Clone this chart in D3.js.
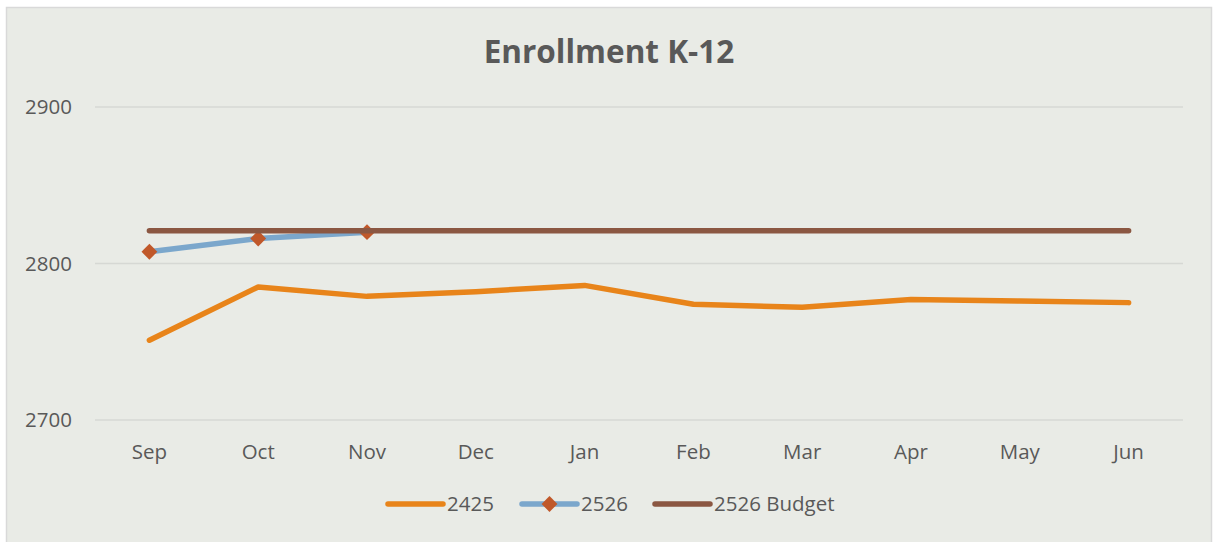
<!DOCTYPE html>
<html>
<head>
<meta charset="utf-8">
<script src="https://d3js.org/d3.v7.min.js"></script>
<style>
  html, body { margin: 0; padding: 0; background: #fff; }
  svg { display: block; font-family: 'Open Sans', sans-serif; }
</style>
</head>
<body>
<div id="chart"></div>
<script>
// data
var months = ["Sep", "Oct", "Nov", "Dec", "Jan", "Feb", "Mar", "Apr", "May", "Jun"];
var s2425 = [2751, 2785, 2779, 2782, 2786, 2774, 2772, 2777, 2776, 2775];
var s2526 = [2807.5, 2816, 2820];
var s2526Budget = [2821, 2821, 2821, 2821, 2821, 2821, 2821, 2821, 2821, 2821];
var yTicks = [2700, 2800, 2900];

var width = 1213, height = 542;
var plot = { left: 95, right: 1183, top: 107, bottom: 420 };

var svg = d3.select("#chart").append("svg")
  .attr("width", width)
  .attr("height", height);

// chart area background + border
svg.append("rect")
  .attr("x", 6.5).attr("y", 7.5)
  .attr("width", 1205).attr("height", 540)
  .attr("fill", "#e9ebe6")
  .attr("stroke", "#d9d9d9")
  .attr("stroke-width", 1.5);

svg.append("text")
  .attr("x", 609).attr("y", 63)
  .attr("text-anchor", "middle")
  .attr("font-size", 31.5)
  .attr("font-weight", "bold")
  .attr("fill", "#595959")
  .text("Enrollment K-12");

var x = d3.scaleBand().domain(months).range([plot.left, plot.right]);
var y = d3.scaleLinear().domain([2700, 2900]).range([plot.bottom, plot.top]);
var cx = function(i) { return x(months[i]) + x.bandwidth() / 2; };

// gridlines
svg.append("g").selectAll("line").data(yTicks).join("line")
  .attr("x1", plot.left).attr("x2", plot.right)
  .attr("y1", function(d) { return y(d); })
  .attr("y2", function(d) { return y(d); })
  .attr("stroke", "#d6d8d4")
  .attr("stroke-width", 1.5);

// y labels
svg.append("g").selectAll("text").data(yTicks).join("text")
  .attr("x", 72)
  .attr("y", function(d) { return y(d); })
  .attr("dy", "0.35em")
  .attr("text-anchor", "end")
  .attr("font-size", 20.5)
  .attr("fill", "#595959")
  .text(function(d) { return d; });

// x labels
svg.append("g").selectAll("text").data(months).join("text")
  .attr("x", function(d, i) { return cx(i); })
  .attr("y", 452)
  .attr("dy", "0.35em")
  .attr("text-anchor", "middle")
  .attr("font-size", 20.5)
  .attr("fill", "#595959")
  .text(function(d) { return d; });

var line = d3.line()
  .x(function(d, i) { return cx(i); })
  .y(function(d) { return y(d); });

function drawSeries(vals, color) {
  svg.append("path")
    .datum(vals)
    .attr("d", line)
    .attr("fill", "none")
    .attr("stroke", color)
    .attr("stroke-width", 5.5)
    .attr("stroke-linejoin", "round")
    .attr("stroke-linecap", "round");
}

var diamond = d3.symbol().type(d3.symbolDiamond2).size(160);

drawSeries(s2425, "#e8841a");
drawSeries(s2526, "#7ba7cc");
svg.append("g").selectAll("path").data(s2526).join("path")
  .attr("d", diamond)
  .attr("transform", function(d, i) { return "translate(" + cx(i) + "," + y(d) + ")"; })
  .attr("fill", "#c0582a");
drawSeries(s2526Budget, "#8b5742");

// legend
var legend = [
  { name: "2425", color: "#e8841a", marker: false, x: 388 },
  { name: "2526", color: "#7ba7cc", marker: true, x: 522 },
  { name: "2526 Budget", color: "#8b5742", marker: false, x: 655 }
];
var lg = svg.append("g").selectAll("g").data(legend).join("g")
  .attr("transform", function(d) { return "translate(" + d.x + ",504)"; });
lg.append("line")
  .attr("x1", 0).attr("x2", 55)
  .attr("stroke", function(d) { return d.color; })
  .attr("stroke-width", 5.5)
  .attr("stroke-linecap", "round");
lg.filter(function(d) { return d.marker; }).append("path")
  .attr("d", diamond)
  .attr("transform", "translate(27.5,0)")
  .attr("fill", "#c0582a");
lg.append("text")
  .attr("x", 59)
  .attr("dy", "0.35em")
  .attr("font-size", 20.5)
  .attr("fill", "#595959")
  .text(function(d) { return d.name; });
</script>
</body>
</html>
